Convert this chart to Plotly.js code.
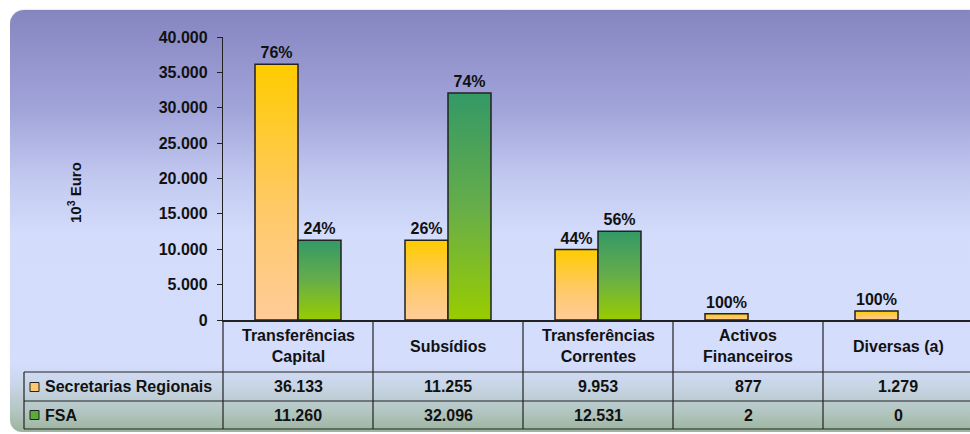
<!DOCTYPE html>
<html><head><meta charset="utf-8">
<script src="https://cdn.plot.ly/plotly-3.0.1.min.js"></script>
<style>
html,body{margin:0;padding:0;overflow:hidden;width:970px;height:434px;background:#fff;}
#panel{position:absolute;left:10px;top:10px;width:990px;height:422px;border-radius:14px 0 0 12px;
background:linear-gradient(to bottom,#8585c0 0%,#a2a5da 24%,#c2c9f0 40%,#d3dcfb 53%,#d4ddfc 84%,#c8d5e6 89%,#b3c6c2 95%,#9db49d 100%);
box-shadow:0 -1px 1px rgba(0,0,0,0.08);}
#chart{position:absolute;left:0;top:0;width:980px;height:434px;}
</style></head><body>
<div id="panel"></div><div id="chart"></div>
<script>
const categories = ['Transferências<br>Capital','Subsídios','Transferências<br>Correntes','Activos<br>Financeiros','Diversas (a)'];
const seriesNames = ['Secretarias Regionais','FSA'];
const secretariasRegionais = [36133, 11255, 9953, 877, 1279];
const fsa = [11260, 32096, 12531, 2, 0];
const pctSecretarias = [76, 26, 44, 100, 100];
const pctFSA = [24, 74, 56, null, null];
const yTicks = [0, 5000, 10000, 15000, 20000, 25000, 30000, 35000, 40000];

const FONT = 'Liberation Sans, Arial, sans-serif';
const fmt = n => String(n).replace(/\B(?=(\d{3})+(?!\d))/g, '.');
const pctText = arr => arr.map(p => p == null ? '' : p + '%');

const W = 980, H = 434, ML = 223, MR = 7, MT = 37, MB = 114;
const PW = W - ML - MR, PH = H - MT - MB;
const px = x => (x - ML) / PW;          // pixel x -> paper
const py = y => (H - MB - y) / PH;      // pixel y -> paper

const barCommon = {
  type: 'bar', textposition: 'outside', cliponaxis: false, constraintext: 'none',
  textfont: {family: FONT, size: 16, color: '#111', weight: 700}, hoverinfo: 'skip'
};
const data = [
  Object.assign({}, barCommon, {name: seriesNames[0], x: categories, y: secretariasRegionais,
    text: pctText(pctSecretarias), marker: {color: '#ffcc66', line: {color: '#222', width: 1.5}}}),
  Object.assign({}, barCommon, {name: seriesNames[1], x: categories, y: fsa,
    text: pctText(pctFSA), marker: {color: '#66aa44', line: {color: '#222', width: fsa.map(v => v > 100 ? 1.5 : 0)}}})
];

const rowTop = py(372), rowMid = py(401), rowBot = py(429);
const tableLeft = px(24);
const shapes = [];
[rowTop, rowMid, rowBot].forEach(y => shapes.push({type: 'line', xref: 'paper', yref: 'paper', x0: tableLeft, x1: 1.02, y0: y, y1: y, line: {color: '#222', width: 1.2}, layer: 'above'}));
shapes.push({type: 'line', xref: 'paper', yref: 'paper', x0: tableLeft, x1: tableLeft, y0: rowTop, y1: rowBot, line: {color: '#222', width: 1.2}});
shapes.push({type: 'line', xref: 'paper', yref: 'paper', x0: 0, x1: 0, y0: 0, y1: rowBot, line: {color: '#222', width: 1.2}});
categories.slice(0, -1).forEach((c, i) => shapes.push({type: 'line', xref: 'x', yref: 'paper', x0: i + 0.5, x1: i + 0.5, y0: 0, y1: rowBot, line: {color: '#222', width: 1.2}}));
// legend keys
const keyColors = ['#ffc870', '#5aaa3c'];
[[382.5, 391.5], [410.5, 419.5]].forEach((r, k) => shapes.push({type: 'rect', xref: 'paper', yref: 'paper',
  x0: px(30), x1: px(39), y0: py(r[0]), y1: py(r[1]), fillcolor: keyColors[k], line: {color: '#222', width: 1}}));

const annotations = [];
const af = {family: FONT, size: 16, color: '#111', weight: 700};
categories.forEach((c, i) => {
  annotations.push({x: c, xref: 'x', y: py(346), yref: 'paper', text: c, showarrow: false, font: af, yanchor: 'middle'});
  annotations.push({x: c, xref: 'x', y: py(386.5), yref: 'paper', text: fmt(secretariasRegionais[i]), showarrow: false, font: af, yanchor: 'middle'});
  annotations.push({x: c, xref: 'x', y: py(415), yref: 'paper', text: fmt(fsa[i]), showarrow: false, font: af, yanchor: 'middle'});
});
seriesNames.forEach((n, k) => annotations.push({x: px(43), xref: 'paper', xanchor: 'left', y: py([386.5, 415][k]), yref: 'paper', yanchor: 'middle', text: n, showarrow: false, font: af}));
annotations.push({x: px(75), xref: 'paper', xanchor: 'center', y: py(193), yref: 'paper', yanchor: 'middle', text: '10<sup>3</sup> Euro', textangle: -90, showarrow: false, font: {family: FONT, size: 15, color: '#111', weight: 700}});

const layout = {
  width: W, height: H, margin: {l: ML, r: MR, t: MT, b: MB, pad: 0},
  paper_bgcolor: 'rgba(0,0,0,0)', plot_bgcolor: 'rgba(0,0,0,0)',
  separators: ',.', barmode: 'group', bargap: 0.4267, bargroupgap: 0, showlegend: false,
  font: {family: FONT, size: 16, color: '#111', weight: 700},
  xaxis: {type: 'category', showticklabels: false, ticks: '', showline: true, linecolor: '#222', linewidth: 2, showgrid: false, zeroline: false, fixedrange: true},
  yaxis: {range: [0, 40000], tickvals: yTicks, tickformat: ',d', ticks: 'outside', ticklen: 5, tickwidth: 1, tickcolor: '#222',
    showline: true, linecolor: '#222', linewidth: 1.2, showgrid: false, zeroline: false, ticklabelstandoff: 6,
    tickfont: {family: FONT, size: 16, color: '#111', weight: 700}, fixedrange: true},
  yaxis2: {overlaying: 'y', anchor: 'x', side: 'left', range: [0, 40000], tickvals: yTicks, ticks: 'inside', ticklen: 6, tickwidth: 1, tickcolor: '#222',
    showticklabels: false, showline: false, showgrid: false, zeroline: false, fixedrange: true},
  shapes: shapes, annotations: annotations
};

Plotly.newPlot('chart', data, layout, {displayModeBar: false, staticPlot: true}).then(gd => {
  const ns = 'http://www.w3.org/2000/svg';
  const svg = gd.querySelector('svg.main-svg');
  let defs = svg.querySelector('defs');
  if (!defs) { defs = document.createElementNS(ns, 'defs'); svg.insertBefore(defs, svg.firstChild); }
  function addGrad(id, stops) {
    const g = document.createElementNS(ns, 'linearGradient');
    g.setAttribute('id', id); g.setAttribute('x1', '0'); g.setAttribute('y1', '0'); g.setAttribute('x2', '0'); g.setAttribute('y2', '1');
    stops.forEach(([o, c]) => { const s = document.createElementNS(ns, 'stop'); s.setAttribute('offset', o); s.setAttribute('stop-color', c); g.appendChild(s); });
    defs.appendChild(g);
  }
  addGrad('gOrange', [[0, '#ffcc00'], [0.55, '#ffc966'], [1, '#ffcc99']]);
  addGrad('gGreen', [[0, '#339966'], [0.5, '#66ad4a'], [1, '#99cc00']]);
  gd.querySelectorAll('.barlayer .trace').forEach((t, i) => {
    t.querySelectorAll('path').forEach(p => { p.style.fill = 'url(#' + (i ? 'gGreen' : 'gOrange') + ')'; });
  });
});
</script>
</body></html>
